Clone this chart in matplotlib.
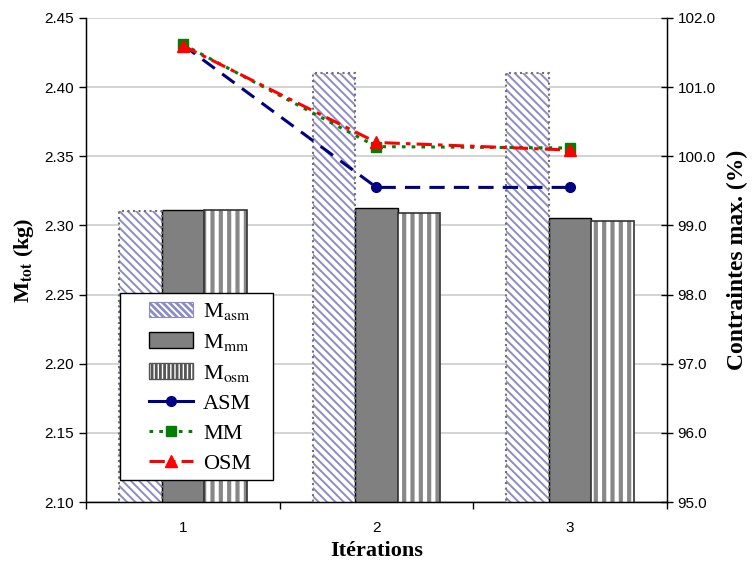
import numpy as np
import matplotlib
matplotlib.use('Agg')
import matplotlib.pyplot as plt
import matplotlib.lines as mlines
import matplotlib.patches as mpatches

plt.rcParams['font.family'] = 'Liberation Sans'
plt.rcParams['mathtext.fontset'] = 'stix'

# ---Data---
iterations = [1, 2, 3]
m_asm = [2.3105, 2.410, 2.410]
m_mm = [2.311, 2.3125, 2.3055]
m_osm = [2.311, 2.3090, 2.3035]
c_asm = [101.61, 99.55, 99.55]
c_mm = [101.62, 100.14, 100.12]
c_osm = [101.60, 100.20, 100.09]

x = np.array(iterations)
w = 0.22

fig = plt.figure(figsize=(7.55, 5.64), dpi=100)
ax = fig.add_axes([0.1139, 0.1099, 0.7695, 0.8582])
ax.set_axisbelow(True)

# bars - asm: lavender diagonal hatch + grey dotted outline
plt.rcParams['hatch.linewidth'] = 1.4
ax.bar(x - w, m_asm, w, color='white', edgecolor='#8c8cc4', hatch='\\\\\\\\', linewidth=0, zorder=2)
ax.bar(x - w, m_asm, w, fill=False, edgecolor='#707070', linestyle=':', linewidth=1.5, zorder=3)
ax.bar(x, m_mm, w, color='#808080', edgecolor='black', linewidth=1.0, zorder=2)
plt.rcParams['hatch.linewidth'] = 3.0
ax.bar(x + w, m_osm, w, color='white', edgecolor='#888888', hatch='||', linewidth=0, zorder=2)
ax.bar(x + w, m_osm, w, fill=False, edgecolor='#333333', linewidth=1.2, zorder=3)

ax.set_xlim(0.5, 3.5)
ax.set_ylim(2.10, 2.45)
ax.set_yticks(np.arange(2.10, 2.451, 0.05))
ax.set_yticklabels([f'{v:.2f}' for v in np.arange(2.10, 2.451, 0.05)])
ax.yaxis.grid(True, color='#cccccc', linewidth=1.2)
ax.set_xticks(x)
ax.set_xticklabels([str(i) for i in iterations])
ax.set_xticks([0.5, 1.5, 2.5, 3.5], minor=True)
ax.tick_params(axis='x', which='major', length=0, pad=14, labelsize=11)
ax.tick_params(axis='x', which='minor', length=5, width=1)
ax.tick_params(axis='y', length=5, width=1, labelsize=11, direction='out')
ax.spines['top'].set_visible(False)
for s in ['left', 'bottom', 'right']:
    ax.spines[s].set_linewidth(1.0)

ax.set_ylabel('M$_{\\mathbf{tot}}$ (kg)', family='Liberation Serif', fontsize=16,
              fontweight='bold', labelpad=6)
ax.set_xlabel('Itérations', family='Liberation Serif', fontsize=16,
              fontweight='bold', labelpad=4)

# lines on right axis
ax2 = ax.twinx()
ax2.set_ylim(95.0, 102.0)
ax2.set_yticks(np.arange(95, 102.1, 1.0))
ax2.set_yticklabels([f'{v:.1f}' for v in np.arange(95, 102.1, 1.0)])
ax2.tick_params(axis='y', length=8, width=1, labelsize=11, direction='inout')
ax2.spines['top'].set_visible(False)
ax2.plot(x, c_asm, color='#000080', linestyle=(0, (5, 3)), linewidth=2.2,
         marker='o', markersize=7, label='ASM')
ax2.plot(x, c_mm, color='#008000', linestyle=(0, (1.2, 2)), linewidth=2.2,
         marker='s', markersize=7, label='MM')
ax2.plot(x, c_osm, color='#ff0000', linestyle=(0, (5, 2, 1.5, 2)), linewidth=2.2,
         marker='^', markersize=8, label='OSM')
ax2.set_ylabel('Contraintes max. (%)', family='Liberation Serif', fontsize=17,
               fontweight='bold', labelpad=8)

# legend: own frame box, legend itself without frame
frame = mpatches.Rectangle((0.0585, 0.0455), 0.263, 0.386, transform=ax2.transAxes,
                           facecolor='white', edgecolor='black', linewidth=1.0,
                           zorder=4.5, clip_on=False)
ax2.add_patch(frame)

plt.rcParams['hatch.linewidth'] = 1.3
h_asm = mpatches.Patch(facecolor='white', edgecolor='#8c8cc4', hatch='\\\\\\\\\\', linewidth=0.8)
h_mm = mpatches.Patch(facecolor='#808080', edgecolor='black', linewidth=1.0)
plt.rcParams['hatch.linewidth'] = 2.0
h_osm = mpatches.Patch(facecolor='white', edgecolor='#555555', hatch='||||', linewidth=1.0)
h_l1 = mlines.Line2D([], [], color='#000080', linestyle='-', linewidth=2.2, marker='o', markersize=7)
h_l2 = mlines.Line2D([], [], color='#008000', linestyle=(0, (1.2, 2)), linewidth=2.2, marker='s', markersize=7)
h_l3 = mlines.Line2D([], [], color='#ff0000', linestyle=(0, (5, 2, 1.5, 2)), linewidth=2.2, marker='^', markersize=8)
leg = ax2.legend([h_asm, h_mm, h_osm, h_l1, h_l2, h_l3],
                 ['M$_{\\mathrm{asm}}$', 'M$_{\\mathrm{mm}}$', 'M$_{\\mathrm{osm}}$', 'ASM', 'MM', 'OSM'],
                 loc='lower left', bbox_to_anchor=(0.108, 0.058), borderaxespad=0,
                 prop={'family': 'Liberation Serif', 'size': 16}, frameon=False,
                 handlelength=2.0, handleheight=0.7,
                 labelspacing=0.43, borderpad=0, handletextpad=0.45)

fig.savefig('out.png', dpi=100)
